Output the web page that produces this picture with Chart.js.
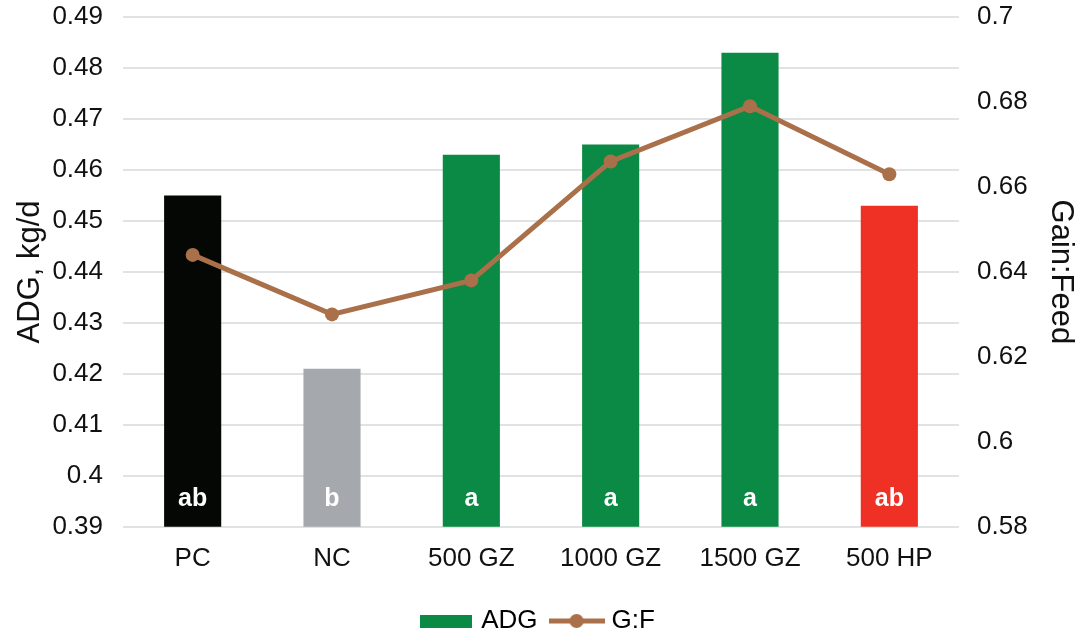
<!DOCTYPE html>
<html>
<head>
<meta charset="utf-8">
<script src="https://cdn.jsdelivr.net/npm/chart.js@4"></script>
<style>
  html, body { margin: 0; padding: 0; background: #fff; }
  #wrap { width: 1079px; height: 636px; }
</style>
</head>
<body>
<div id="wrap"><canvas id="chart"></canvas></div>
<script>
// data
const groups = ['PC', 'NC', '500 GZ', '1000 GZ', '1500 GZ', '500 HP'];
const adg = [0.455, 0.421, 0.463, 0.465, 0.483, 0.453];
const gainFeed = [0.644, 0.630, 0.638, 0.666, 0.679, 0.663];
const letters = ['ab', 'b', 'a', 'a', 'a', 'ab'];
const barColors = ['#050705', '#a5a9ae', '#0a8a45', '#0a8a45', '#0a8a45', '#ee3124'];

const FONT = '"Liberation Sans", Arial, sans-serif';
const green = '#0a8a45';
const lineColor = '#a9704a';
Chart.defaults.font.family = FONT;
Chart.defaults.color = '#111';

// legend markers drawn on small canvases
function marker(w, h, draw) {
  const cv = document.createElement('canvas');
  cv.width = w; cv.height = h;
  draw(cv.getContext('2d'));
  return cv;
}
const adgMarker = marker(52, 13, c => { c.fillStyle = green; c.fillRect(0, 0, 52, 13); });
const gfMarker = marker(56, 16, c => {
  c.strokeStyle = lineColor; c.lineWidth = 5;
  c.beginPath(); c.moveTo(0, 8); c.lineTo(56, 8); c.stroke();
  c.fillStyle = lineColor;
  c.beginPath(); c.arc(28, 8, 7, 0, Math.PI * 2); c.fill();
});

// significance letters inside the bars
const letterPlugin = {
  id: 'letters',
  afterDatasetsDraw(chart) {
    const ctx = chart.ctx;
    const meta = chart.getDatasetMeta(0);
    const yb = chart.scales.y.getPixelForValue(0.39);
    ctx.save();
    ctx.fillStyle = '#fff';
    ctx.font = 'bold 25px ' + FONT;
    ctx.textAlign = 'center';
    ctx.textBaseline = 'middle';
    meta.data.forEach((bar, i) => ctx.fillText(letters[i], bar.x, yb - 28));
    ctx.restore();
  }
};

// the value axes should not push the plot down for their end labels
function fitY(width) {
  return s => { s.width = width; s.paddingTop = 0; s.paddingBottom = 0; };
}

new Chart(document.getElementById('chart'), {
  data: {
    labels: groups,
    datasets: [{
      type: 'bar',
      label: 'ADG',
      data: adg,
      backgroundColor: barColors,
      yAxisID: 'y',
      barPercentage: 0.41,
      categoryPercentage: 1,
      order: 2
    }, {
      type: 'line',
      label: 'G:F',
      data: gainFeed,
      borderColor: lineColor,
      backgroundColor: lineColor,
      borderWidth: 5,
      pointRadius: 7,
      pointBackgroundColor: lineColor,
      pointBorderWidth: 0,
      tension: 0,
      yAxisID: 'y1',
      order: 1
    }]
  },
  options: {
    responsive: true,
    maintainAspectRatio: false,
    animation: false,
    layout: { padding: { top: 17, right: 0, left: 0, bottom: -8 } },
    plugins: {
      tooltip: { enabled: false },
      legend: {
        position: 'bottom',
        labels: {
          usePointStyle: true,
          pointStyleWidth: 44,
          boxHeight: 13,
          padding: 17,
          font: { size: 26 },
          color: '#111',
          generateLabels: () => [
            { text: 'ADG', pointStyle: adgMarker, fillStyle: green, strokeStyle: green, lineWidth: 0, datasetIndex: 0 },
            { text: 'G:F', pointStyle: gfMarker, fillStyle: lineColor, strokeStyle: lineColor, lineWidth: 0, datasetIndex: 1 }
          ]
        }
      }
    },
    scales: {
      x: {
        grid: { display: false, drawTicks: false },
        border: { display: false },
        ticks: { font: { size: 26 }, color: '#111', padding: 16 },
        afterFit: s => { s.height += 1; }
      },
      y: {
        position: 'left',
        min: 0.39, max: 0.49,
        afterFit: fitY(123),
        ticks: { stepSize: 0.01, font: { size: 26 }, color: '#111', padding: 20,
                 callback: v => String(+v.toFixed(2)) },
        grid: { color: '#dfe3e3', lineWidth: 2, drawTicks: false },
        border: { display: false },
        title: { display: true, text: 'ADG, kg/d', font: { size: 31 }, color: '#111', padding: { top: 12, bottom: 0 } }
      },
      y1: {
        position: 'right',
        min: 0.58, max: 0.70,
        afterFit: fitY(120),
        ticks: { stepSize: 0.02, font: { size: 26 }, color: '#111', padding: 18,
                 callback: v => String(+v.toFixed(2)) },
        grid: { display: false, drawTicks: false },
        border: { display: false },
        title: { display: true, text: 'Gain:Feed', font: { size: 31 }, color: '#111', padding: { top: 0, bottom: 0 } }
      }
    }
  },
  plugins: [letterPlugin]
});
</script>
</body>
</html>
